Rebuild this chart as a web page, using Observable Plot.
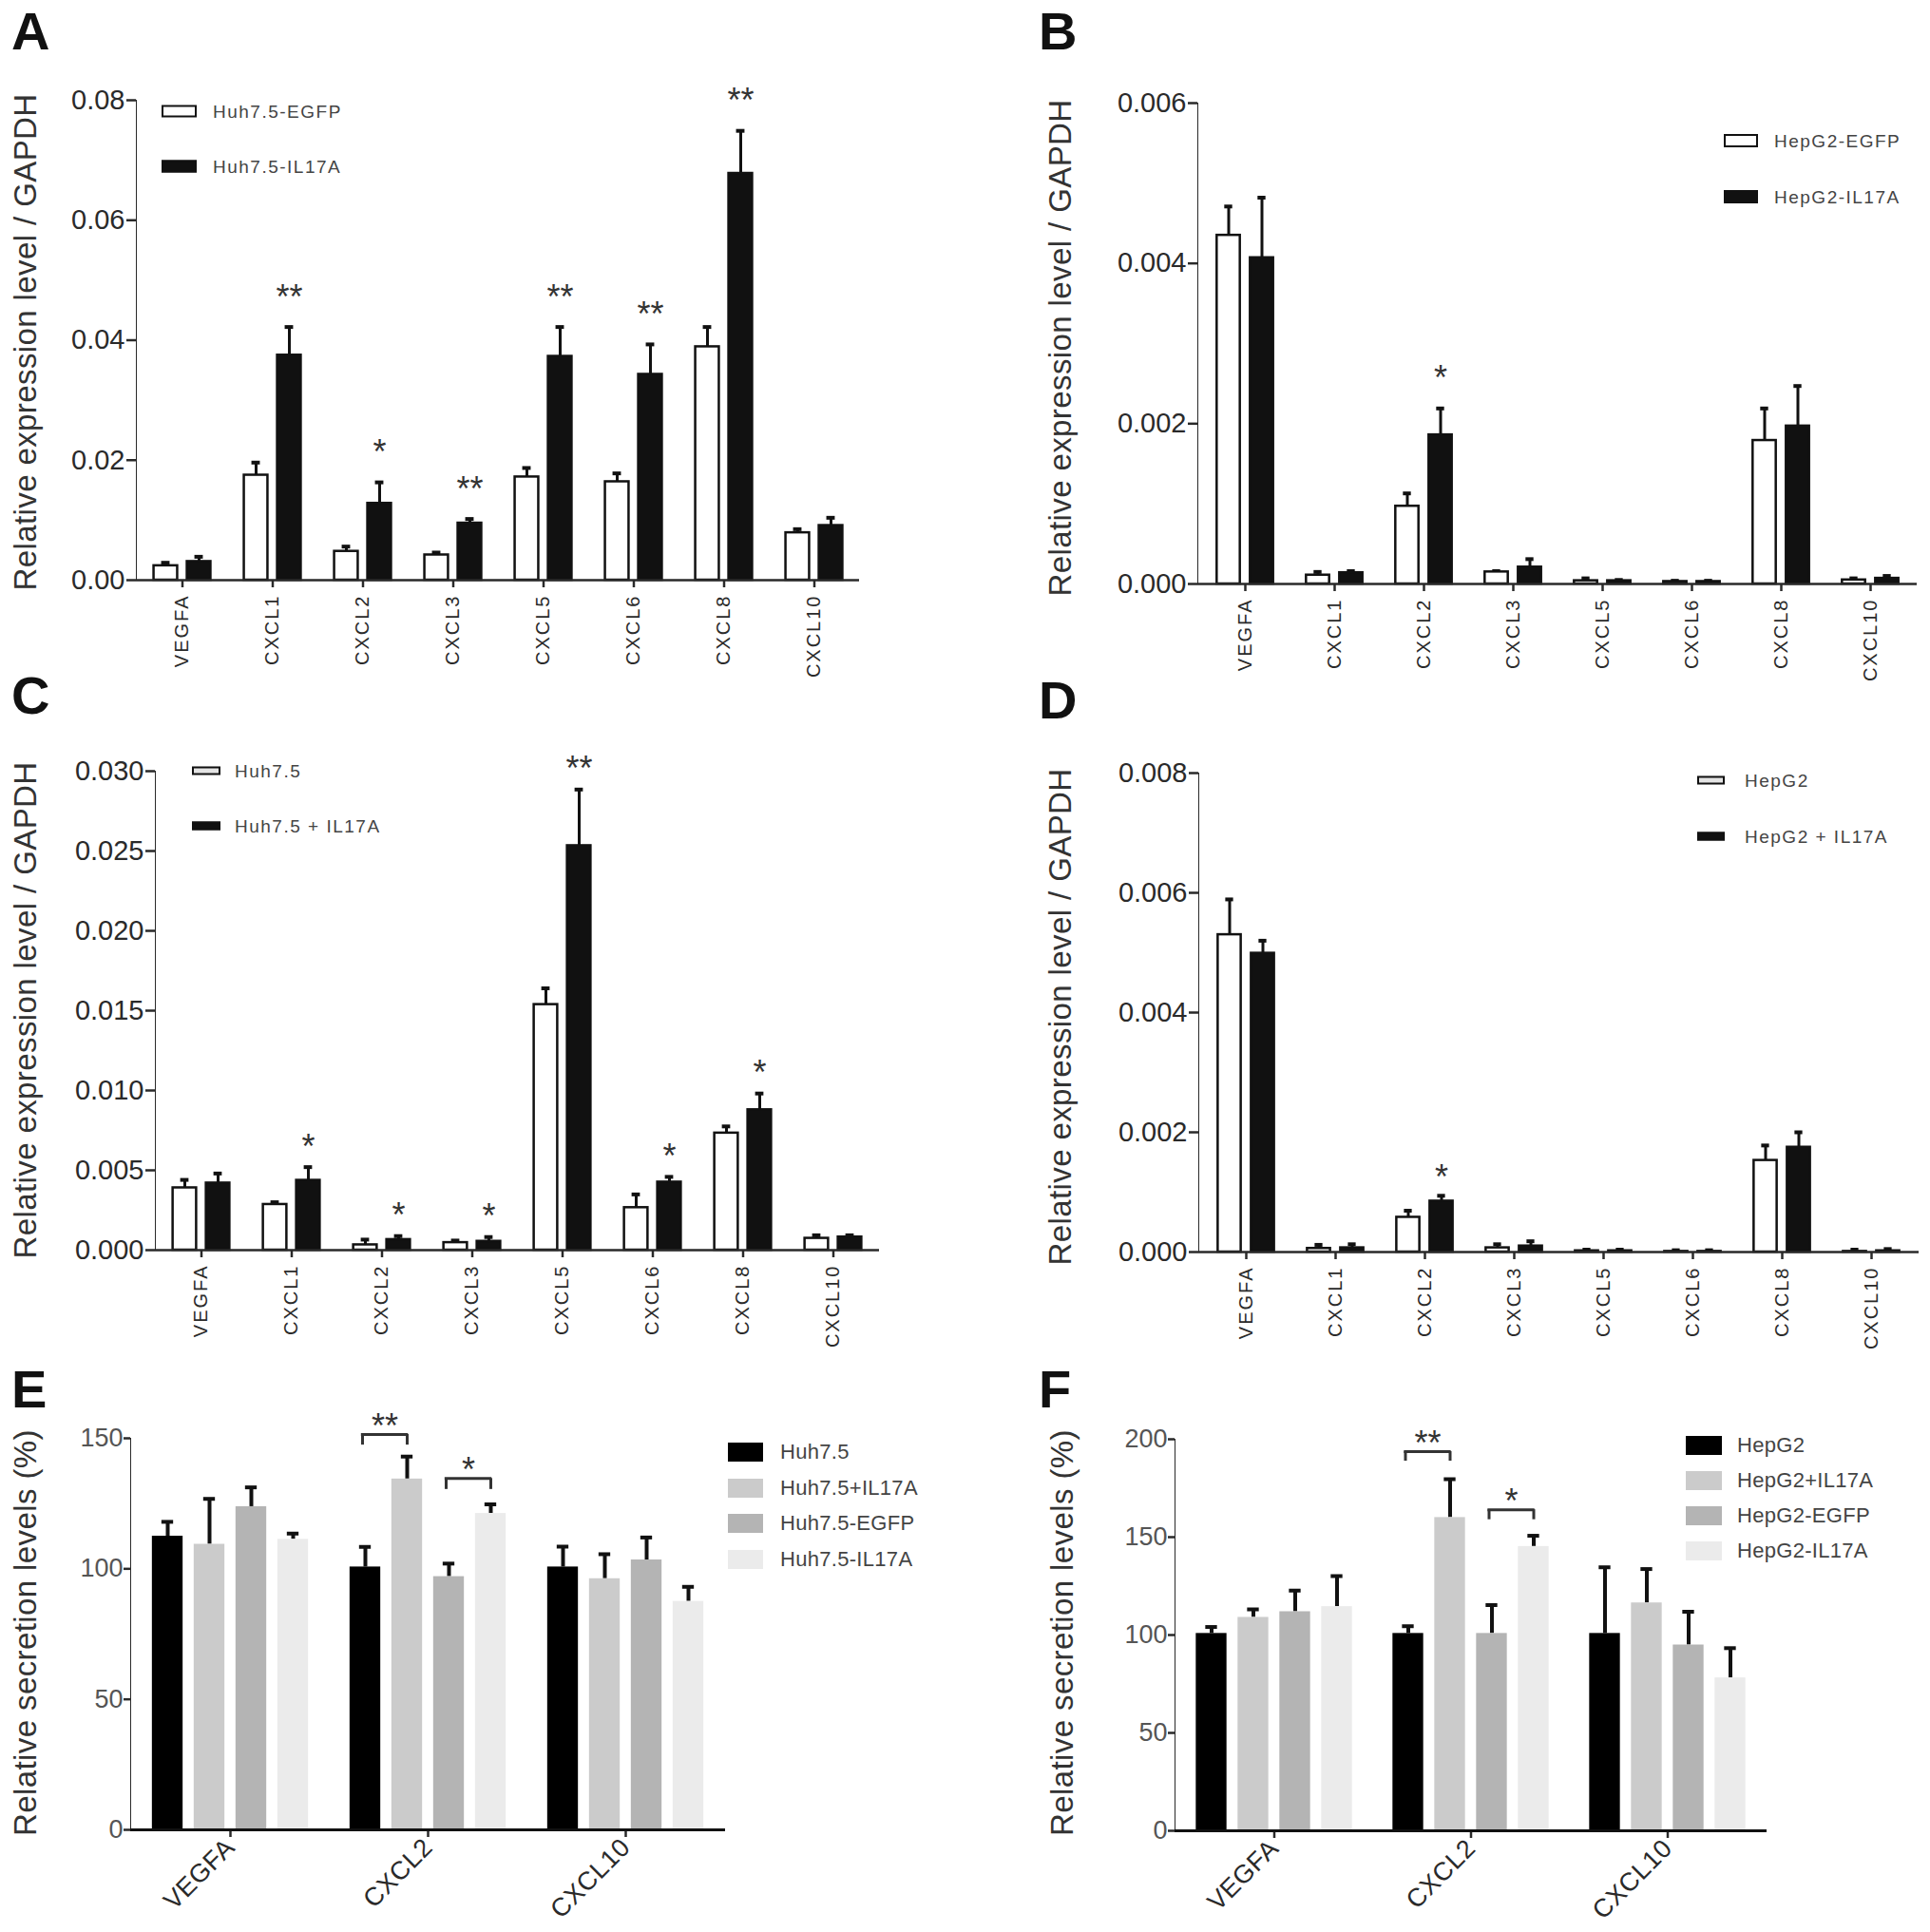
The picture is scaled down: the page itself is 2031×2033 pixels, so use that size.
<!DOCTYPE html>
<html>
<head>
<meta charset="utf-8">
<script src="https://cdn.jsdelivr.net/npm/d3@7"></script>
<script src="https://cdn.jsdelivr.net/npm/@observablehq/plot@0.6"></script>
<style>
  body { margin: 0; background: #fff; }
  #fig { position: relative; width: 2031px; height: 2033px; background: #fff; overflow: hidden;
         font-family: "Liberation Sans", Arial, sans-serif; color: #222; }
  .panel { position: absolute; }
  .letter { position: absolute; font-size: 56px; font-weight: bold; line-height: 1; color: #111; }
  .ylab { position: absolute; white-space: nowrap; font-size: 33px; letter-spacing: 0.4px; color: #333;
          line-height: 1; transform: translate(-50%, -50%) rotate(-90deg); }
  .leg { position: absolute; white-space: nowrap; color: #444; line-height: 1; transform: translateY(-50%); }
  .box { position: absolute; box-sizing: border-box; transform: translateY(-50%); }
</style>
</head>
<body>
<div id="fig"></div>
<script>
// genes on the qPCR panels (A-D) and ELISA panels (E-F)
const genes = ["VEGFA", "CXCL1", "CXCL2", "CXCL3", "CXCL5", "CXCL6", "CXCL8", "CXCL10"]
const genes3 = ["VEGFA", "CXCL2", "CXCL10"]

// A: Huh7.5-EGFP vs Huh7.5-IL17A
const aEGFP = [0.0024, 0.0175, 0.0048, 0.0042, 0.0172, 0.0164, 0.0389, 0.0079]
const aEGFPErr = [0.0005, 0.0021, 0.0008, 0.0004, 0.0015, 0.0014, 0.0033, 0.0006]
const aIL17A = [0.0031, 0.0375, 0.0128, 0.0095, 0.0373, 0.0343, 0.0678, 0.0091]
const aIL17AErr = [0.0008, 0.0047, 0.0035, 0.0007, 0.0049, 0.0050, 0.0071, 0.0013]
const aStars = ["", "**", "*", "**", "**", "**", "**", ""]
const aTicks = [0, 0.02, 0.04, 0.06, 0.08]

// B: HepG2-EGFP vs HepG2-IL17A
const bEGFP = [0.00435, 0.00011, 0.00097, 0.00015, 0.00004, 0.00003, 0.00179, 0.00005]
const bEGFPErr = [0.00036, 0.00004, 0.00016, 0.00001, 0.00003, 0.00001, 0.00040, 0.00002]
const bIL17A = [0.00407, 0.00014, 0.00186, 0.00021, 0.00004, 0.00003, 0.00197, 0.00007]
const bIL17AErr = [0.00075, 0.00002, 0.00033, 0.00010, 0.00001, 0.00001, 0.00050, 0.00003]
const bStars = ["", "", "*", "", "", "", "", ""]
const bTicks = [0, 0.002, 0.004, 0.006]

// C: Huh7.5 vs Huh7.5 + IL17A
const cCtrl = [0.0039, 0.00286, 0.00033, 0.00047, 0.01538, 0.00266, 0.00733, 0.00074]
const cCtrlErr = [0.0005, 0.00014, 0.00033, 0.00013, 0.00102, 0.00083, 0.00042, 0.00019]
const cIL17A = [0.0042, 0.00437, 0.00066, 0.00055, 0.02533, 0.00426, 0.00879, 0.00082]
const cIL17AErr = [0.0006, 0.00083, 0.00022, 0.00027, 0.00352, 0.00033, 0.00102, 0.00011]
const cStars = ["", "*", "*", "*", "**", "*", "*", ""]
const cTicks = [0, 0.005, 0.01, 0.015, 0.02, 0.025, 0.03]

// D: HepG2 vs HepG2 + IL17A
const dCtrl = [0.0053, 0.00006, 0.00058, 0.00007, 0.00002, 0.00001, 0.00153, 0.00001]
const dCtrlErr = [0.00059, 0.00006, 0.00011, 0.00006, 0.00002, 0.00002, 0.00025, 0.00003]
const dIL17A = [0.00499, 0.00007, 0.00085, 0.00010, 0.00002, 0.00001, 0.00175, 0.00002]
const dIL17AErr = [0.00021, 0.00006, 0.00009, 0.00008, 0.00002, 0.00002, 0.00025, 0.00003]
const dStars = ["", "", "*", "", "", "", "", ""]
const dTicks = [0, 0.002, 0.004, 0.006, 0.008]

// E: secretion, Huh7.5 lines
const eSeries = ["Huh7.5", "Huh7.5+IL17A", "Huh7.5-EGFP", "Huh7.5-IL17A"]
const eValues = [[112.5, 100.7, 100.7], [109.4, 134.4, 96.2], [123.8, 97.0, 103.4], [111.3, 121.2, 87.5]]
const eErrors = [[5.5, 7.7, 7.8], [17.4, 8.6, 9.4], [7.4, 5.0, 8.6], [2.2, 3.5, 5.6]]
const eBrackets = [
  {gene: "CXCL2", from: 0, to: 1, top: 151.5, leg: 147.4, label: "**"},
  {gene: "CXCL2", from: 2, to: 3, top: 134.6, leg: 130.4, label: "*"}
]
const eTicks = [0, 50, 100, 150]

// F: secretion, HepG2 lines
const fSeries = ["HepG2", "HepG2+IL17A", "HepG2-EGFP", "HepG2-IL17A"]
const fValues = [[100.8, 100.8, 100.8], [109.0, 160.0, 116.4], [111.9, 100.8, 94.9], [114.5, 145.2, 78.1]]
const fErrors = [[3.3, 3.7, 33.8], [4.1, 19.6, 17.3], [10.8, 14.5, 17.0], [15.6, 5.5, 15.2]]
const fBrackets = [
  {gene: "CXCL2", from: 0, to: 1, top: 193.7, leg: 188.8, label: "**"},
  {gene: "CXCL2", from: 2, to: 3, top: 164.0, leg: 158.9, label: "*"}
]
const fTicks = [0, 50, 100, 150, 200]

const greys = ["#000000", "#cbcbcb", "#b4b4b4", "#ebebeb"]
const fig = document.getElementById("fig")

function rows(names, values, errs, stars) {
  return names.map((g, i) => ({gene: g, v: values[i], top: values[i] + errs[i], star: stars ? stars[i] : ""}))
}

function place(el, left, top) {
  const div = document.createElement("div")
  div.className = "panel"
  div.style.left = left + "px"
  div.style.top = top + "px"
  div.appendChild(el)
  fig.appendChild(div)
}

function html(cls, left, top, text, extra) {
  const div = document.createElement("div")
  div.className = cls
  div.style.left = left + "px"
  div.style.top = top + "px"
  if (text) div.textContent = text
  Object.assign(div.style, extra || {})
  fig.appendChild(div)
}

// tick label sizes and heavier axis strokes
function styleAxes(svg, xFont, xSpacing, yFont) {
  const s = d3.select(svg)
  s.selectAll('[aria-label^="x-axis"] text').style("font-size", xFont + "px").style("letter-spacing", xSpacing + "px")
  s.selectAll('[aria-label^="y-axis"] text').style("font-size", yFont + "px")
  s.selectAll('[aria-label^="x-axis"] path, [aria-label^="y-axis"] path, [aria-label^="x-axis"] line, [aria-label^="y-axis"] line')
    .attr("stroke-width", 2.5)
}

const baseStyle = {fontFamily: "Liberation Sans, Arial, sans-serif", fontSize: "29px", color: "#2a2a2a", background: "transparent", overflow: "visible"}

// qPCR panels: white control bar + black treated bar per gene
function exprPanel(c) {
  const step = (c.width - c.ml - c.mr) / genes.length
  const off = 17.5, bw = 25, cap = 9
  const inset = w => step / 2 - w / 2
  const ctrl = rows(genes, c.ctrl, c.ctrlErr)
  const trt = rows(genes, c.trt, c.trtErr, c.stars)
  const marks = []
  ;[[ctrl, -off, "#ffffff"], [trt, off, "#111111"]].forEach(([d, dx, fill]) => {
    marks.push(Plot.ruleX(d, {x: "gene", y1: "v", y2: "top", dx, stroke: "#111", strokeWidth: 3}))
    marks.push(Plot.tickY(d, {x: "gene", y: "top", dx, insetLeft: inset(cap), insetRight: inset(cap), stroke: "#111", strokeWidth: 4}))
    marks.push(Plot.barY(d, {x: "gene", y: "v", dx, insetLeft: inset(bw), insetRight: inset(bw), fill, stroke: "#111", strokeWidth: 2.5}))
  })
  marks.push(Plot.text(trt.filter(d => d.star), {x: "gene", y: "top", text: "star", dx: off, dy: -c.starGap + 9, fontSize: 36, fill: "#333"}))
  marks.push(Plot.ruleY([0], {stroke: "#2a2a2a", strokeWidth: 2.5}))
  const svg = Plot.plot({
    width: c.width, height: c.height,
    marginLeft: c.ml, marginRight: c.mr, marginTop: c.mt, marginBottom: c.mb,
    style: baseStyle,
    x: {domain: genes, padding: 0, tickRotate: -90, tickSize: 8, tickPadding: 7, label: null},
    y: {domain: [0, c.max], ticks: c.ticks, tickFormat: d3.format(c.fmt), tickSize: 10, tickPadding: 2, label: null, line: true},
    marks
  })
  styleAxes(svg, 20, 2, 29)
  place(svg, c.left, c.top)
}

// ELISA panels: four grey bars per gene with brackets
function secPanel(c) {
  const step = (c.width - c.ml - c.mr) / genes3.length
  const offs = [-66, -22, 22, 66], bw = 33, cap = 13
  const inset = w => step / 2 - w / 2
  const marks = []
  c.series.forEach((s, k) => {
    const d = rows(genes3, c.values[k], c.errors[k])
    marks.push(Plot.ruleX(d, {x: "gene", y1: "v", y2: "top", dx: offs[k], stroke: "#111", strokeWidth: 4}))
    marks.push(Plot.tickY(d, {x: "gene", y: "top", dx: offs[k], insetLeft: inset(cap), insetRight: inset(cap), stroke: "#111", strokeWidth: 4}))
    marks.push(Plot.barY(d, {x: "gene", y: "v", dx: offs[k], insetLeft: inset(bw), insetRight: inset(bw), fill: greys[k]}))
  })
  c.brackets.forEach(b => {
    const xl = offs[b.from] - 3, xr = offs[b.to]
    marks.push(Plot.tickY([b], {x: "gene", y: "top", insetLeft: step / 2 + xl - 1.5, insetRight: step / 2 - xr - 1.5, stroke: "#333", strokeWidth: 3}))
    marks.push(Plot.ruleX([b], {x: "gene", y1: "leg", y2: "top", dx: xl, stroke: "#333", strokeWidth: 3}))
    marks.push(Plot.ruleX([b], {x: "gene", y1: "leg", y2: "top", dx: xr, stroke: "#333", strokeWidth: 3}))
    marks.push(Plot.text([b], {x: "gene", y: "top", text: "label", dx: (xl + xr) / 2, dy: -8, fontSize: 36, fill: "#333"}))
  })
  marks.push(Plot.ruleY([0], {stroke: "#111", strokeWidth: 3}))
  const svg = Plot.plot({
    width: c.width, height: c.height,
    marginLeft: c.ml, marginRight: c.mr, marginTop: c.mt, marginBottom: c.mb,
    style: baseStyle,
    x: {domain: genes3, padding: 0, tickRotate: -45, tickSize: 8, tickPadding: 6, label: null},
    y: {domain: [0, c.max], ticks: c.ticks, tickFormat: d3.format("d"), tickSize: 7, tickPadding: 1, label: null, line: true},
    marks
  })
  styleAxes(svg, 27, 0.5, 27)
  d3.select(svg).selectAll('[aria-label^="y-axis"] text').style("fill", "#555")
  place(svg, c.left, c.top)
}

exprPanel({left: 0, top: 0, width: 1015, height: 720, ml: 143, mr: 111, mt: 105, mb: 110,
  ctrl: aEGFP, ctrlErr: aEGFPErr, trt: aIL17A, trtErr: aIL17AErr, stars: aStars, max: 0.08, ticks: aTicks, fmt: ".2f", starGap: 40})
exprPanel({left: 1015, top: 0, width: 1016, height: 720, ml: 245, mr: 14, mt: 108, mb: 106,
  ctrl: bEGFP, ctrlErr: bEGFPErr, trt: bIL17A, trtErr: bIL17AErr, stars: bStars, max: 0.006, ticks: bTicks, fmt: ".3f", starGap: 40})
exprPanel({left: 0, top: 700, width: 1015, height: 720, ml: 163, mr: 90, mt: 111, mb: 105,
  ctrl: cCtrl, ctrlErr: cCtrlErr, trt: cIL17A, trtErr: cIL17AErr, stars: cStars, max: 0.03, ticks: cTicks, fmt: ".3f", starGap: 30})
exprPanel({left: 1015, top: 700, width: 1016, height: 720, ml: 246, mr: 12, mt: 113, mb: 103,
  ctrl: dCtrl, ctrlErr: dCtrlErr, trt: dIL17A, trtErr: dIL17AErr, stars: dStars, max: 0.008, ticks: dTicks, fmt: ".3f", starGap: 28})
secPanel({left: 0, top: 1400, width: 1015, height: 633, ml: 137, mr: 252, mt: 113, mb: 108,
  series: eSeries, values: eValues, errors: eErrors, brackets: eBrackets, max: 150, ticks: eTicks})
secPanel({left: 1015, top: 1400, width: 1016, height: 633, ml: 221, mr: 172, mt: 114, mb: 107,
  series: fSeries, values: fValues, errors: fErrors, brackets: fBrackets, max: 200, ticks: fTicks})

// panel letters
;[["A", 12, 5], ["B", 1093, 5], ["C", 12, 704], ["D", 1093, 709], ["E", 12, 1434], ["F", 1093, 1434]]
  .forEach(([t, x, y]) => html("letter", x, y, t))

// axis titles
;[[26, 360, "Relative expression level / GAPDH"], [1115, 366, "Relative expression level / GAPDH"],
  [26, 1063, "Relative expression level / GAPDH"], [1115, 1070, "Relative expression level / GAPDH"],
  [26, 1718, "Relative secretion levels (%)"], [1117, 1718, "Relative secretion levels (%)"]]
  .forEach(([x, y, t]) => html("ylab", x, y, t))

// legends
function legend(boxX, boxW, boxH, textX, ys, names, fills, fontSize, outlined) {
  names.forEach((n, i) => {
    html("box", boxX, ys[i], "", {width: boxW + "px", height: boxH + "px", background: fills[i],
      border: outlined ? "2.5px solid #111" : "none"})
    html("leg", textX, ys[i], n, {fontSize: fontSize + "px", letterSpacing: outlined ? "1.5px" : "0.3px"})
  })
}
legend(170, 37, 13, 224, [117, 175], ["Huh7.5-EGFP", "Huh7.5-IL17A"], ["#fff", "#111"], 19, true)
legend(1814, 36, 14, 1867, [148, 207], ["HepG2-EGFP", "HepG2-IL17A"], ["#fff", "#111"], 19, true)
legend(202, 30, 9, 247, [811, 869], ["Huh7.5", "Huh7.5 + IL17A"], ["#e4e4e4", "#111"], 19, true)
legend(1786, 29, 9, 1836, [821, 880], ["HepG2", "HepG2 + IL17A"], ["#e4e4e4", "#111"], 19, true)
legend(766, 37, 20, 821, [1528, 1566, 1603, 1641], eSeries, greys, 22, false)
legend(1774, 38, 20, 1828, [1521, 1558, 1595, 1632], fSeries, greys, 22, false)
</script>
</body>
</html>
